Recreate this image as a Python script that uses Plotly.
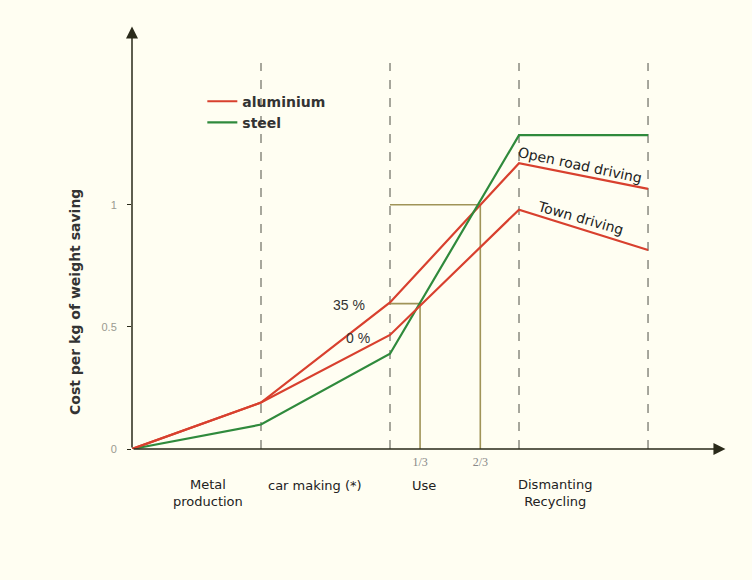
import plotly.graph_objects as go

# ---- data ----
stage_x = [0, 1, 2, 3, 4]
alu_open_road = [0, 0.19, 0.60, 1.17, 1.065]   # 35 % branch
alu_town = [0, 0.19, 0.467, 0.98, 0.815]       # 0 % branch
steel = [0, 0.10, 0.39, 1.285, 1.285]

stage_bounds = [1, 2, 3, 4]
dash_top = 1.58

third_x = [2.233, 2.70]
third_y = [0.595, 1.0]
third_labels = ["1/3", "2/3"]

stage_names = ["Metal<br>production", "car making (*)", "Use", "Dismanting<br>Recycling"]
stage_label_x = [0.59, 1.42, 2.26, 3.28]
stage_label_y = [-0.104, -0.087, -0.087, -0.104]   # paper fraction below the x axis

y_ticks = [0, 0.5, 1]
y_ticktext = ["0", "0.5", "1"]
y_title = "Cost per kg of weight saving"

RED = "#d8402e"
GREEN = "#2f8a3c"
OLIVE = "#a09458"
BG = "#fffef2"
AXIS = "#2a2a1a"
WIDE = "DejaVu Sans"

fig = go.Figure()

# dashed stage boundaries
for bx in stage_bounds:
    fig.add_trace(go.Scatter(x=[bx, bx], y=[0, dash_top], mode="lines",
                             line=dict(color="#8a8a80", width=1.5, dash="dash"),
                             showlegend=False, hoverinfo="skip"))

# 1/3 and 2/3 guide lines
for tx, ty in zip(third_x, third_y):
    fig.add_trace(go.Scatter(x=[2, tx, tx], y=[ty, ty, 0], mode="lines",
                             line=dict(color=OLIVE, width=1.6),
                             showlegend=False, hoverinfo="skip"))

fig.add_trace(go.Scatter(x=stage_x, y=alu_open_road, mode="lines", name="<b>aluminium</b>",
                         line=dict(color=RED, width=2.2), legendgroup="a", hoverinfo="skip"))
fig.add_trace(go.Scatter(x=stage_x, y=steel, mode="lines", name="<b>steel</b>",
                         line=dict(color=GREEN, width=2.2), legendgroup="s", hoverinfo="skip"))
fig.add_trace(go.Scatter(x=stage_x, y=alu_town, mode="lines", name="aluminium",
                         line=dict(color=RED, width=2.2), legendgroup="a",
                         showlegend=False, hoverinfo="skip"))

annotations = []
# axis arrows
annotations.append(dict(x=0, y=1.73, ax=0, ay=0, xref="x", yref="y", axref="x", ayref="y",
                        text="", showarrow=True, arrowhead=2, arrowsize=1.6, arrowwidth=1.5,
                        arrowcolor=AXIS))
annotations.append(dict(x=4.6, y=0, ax=0, ay=0, xref="x", yref="y", axref="x", ayref="y",
                        text="", showarrow=True, arrowhead=2, arrowsize=1.6, arrowwidth=1.5,
                        arrowcolor=AXIS))

# y axis title (placed lower than the axis middle, as in the original)
annotations.append(dict(x=-0.0956, y=0.346, xref="paper", yref="paper",
                        text="<b>" + y_title + "</b>", showarrow=False, textangle=-90,
                        xanchor="center", yanchor="middle",
                        font=dict(family=WIDE, size=14, color="#333")))

for name, sx, sy in zip(stage_names, stage_label_x, stage_label_y):
    annotations.append(dict(x=sx, y=sy, xref="x", yref="paper", text=name, showarrow=False,
                            yanchor="middle", xanchor="center",
                            font=dict(family=WIDE, size=13, color="#222"),
                            align="center"))

annotations.append(dict(x=1.68, y=0.59, xref="x", yref="y", text="35 %", showarrow=False,
                        font=dict(family="Liberation Sans", size=14, color="#333")))
annotations.append(dict(x=1.75, y=0.455, xref="x", yref="y", text="0 %", showarrow=False,
                        font=dict(family="Liberation Sans", size=14, color="#333")))
annotations.append(dict(x=3.47, y=1.164, xref="x", yref="y", text="Open road driving",
                        showarrow=False, textangle=12,
                        font=dict(family=WIDE, size=14, color="#222")))
annotations.append(dict(x=3.48, y=0.946, xref="x", yref="y", text="Town driving",
                        showarrow=False, textangle=16,
                        font=dict(family=WIDE, size=14, color="#222")))

fig.update_layout(
    width=752, height=580,
    margin=dict(l=132, r=24, t=24, b=131),
    paper_bgcolor=BG, plot_bgcolor=BG,
    hovermode=False,
    annotations=annotations,
    legend=dict(x=0.118, y=0.855, xanchor="left", yanchor="top",
                bgcolor="rgba(0,0,0,0)", tracegroupgap=0, itemwidth=30,
                font=dict(family=WIDE, size=14, color="#333")),
    xaxis=dict(range=[0, 4.62], showgrid=False, zeroline=False, showline=False,
               tickvals=third_x, ticktext=third_labels, ticks="", ticklabelstandoff=4,
               tickfont=dict(family="Liberation Serif", size=12, color="#888")),
    yaxis=dict(range=[0, 1.74], showgrid=False, zeroline=False, showline=False,
               tickvals=y_ticks, ticktext=y_ticktext, ticks="outside", ticklen=4,
               tickwidth=1, ticklabelstandoff=8,
               tickcolor=AXIS, tickfont=dict(family="Liberation Sans", size=11, color="#9a9a90")),
)

fig.write_html("out.html", config={"displayModeBar": False},
               post_script="document.body.style.margin='0';")
